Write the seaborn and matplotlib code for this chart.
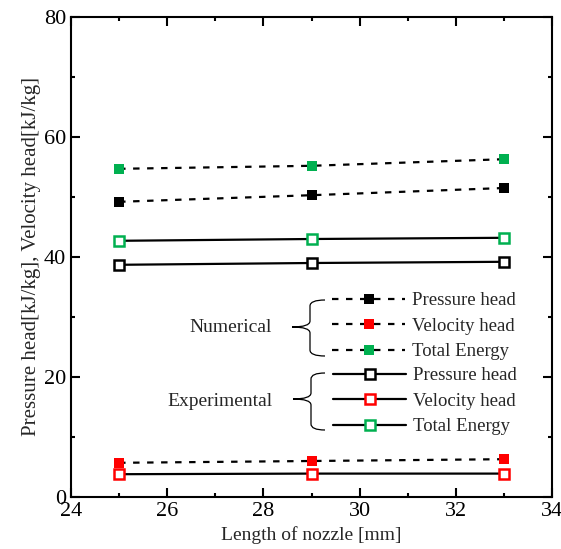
import pandas as pd
import seaborn as sns
import matplotlib.pyplot as plt
from matplotlib.path import Path
from matplotlib.patches import PathPatch

# Data
nozzle_length = [25, 29, 33]
num_pressure = [49.2, 50.3, 51.5]
num_velocity = [5.7, 6.0, 6.3]
num_total = [54.7, 55.2, 56.3]
exp_pressure = [38.7, 39.0, 39.2]
exp_velocity = [3.8, 3.9, 3.9]
exp_total = [42.7, 43.0, 43.2]

labels = ["Pressure head", "Velocity head", "Total Energy"]
colors = ["black", "#ff0000", "#00b050"]

sns.set_style("ticks")
plt.rcParams["font.family"] = ["Liberation Serif", "DejaVu Serif"]

fig = plt.figure(figsize=(5.61, 5.49), dpi=100)
ax = fig.add_axes([71 / 561, 1 - 497 / 549, 481 / 561, 480 / 549])

dash = (0, (2.9, 3.4))


def draw_series(values, color, numerical):
    df = pd.DataFrame({"length": nozzle_length, "value": values})
    sns.lineplot(
        data=df, x="length", y="value", ax=ax,
        color="black", linewidth=1.6,
        linestyle=dash if numerical else "-",
        marker="s", markersize=7.5 if numerical else 6.5,
        markerfacecolor=color if numerical else "white",
        markeredgecolor=color, markeredgewidth=0 if numerical else 1.8,
        legend=False,
    )
    return ax.lines[-1]


num_handles = [draw_series(v, c, True)
               for v, c in zip([num_pressure, num_velocity, num_total], colors)]
exp_handles = [draw_series(v, c, False)
               for v, c in zip([exp_pressure, exp_velocity, exp_total], colors)]

ax.set_xlim(24, 34)
ax.set_ylim(0, 80)
ax.set_xticks([24, 26, 28, 30, 32, 34])
ax.set_xticks([25, 27, 29, 31, 33], minor=True)
ax.set_yticks([0, 20, 40, 60, 80])
ax.set_yticks([10, 30, 50, 70], minor=True)
ax.tick_params(which="both", direction="in", top=True, right=True,
               width=1.5, labelsize=16, colors="black")
ax.tick_params(which="major", length=6.5)
ax.tick_params(which="minor", length=3)
for s in ax.spines.values():
    s.set_linewidth(1.5)
    s.set_color("black")

ax.set_xlabel("Length of nozzle [mm]", fontsize=14, labelpad=4)
ax.set_ylabel("Pressure head[kJ/kg], Velocity head[kJ/kg]", fontsize=15, labelpad=2)

leg_kw = dict(frameon=False, fontsize=13.5, handlelength=3.9, handletextpad=0.35,
              labelspacing=0.45, borderpad=0, borderaxespad=0, loc="upper left",
              numpoints=1)
leg1 = ax.legend(num_handles, labels, bbox_to_anchor=((332 - 71) / 481, (497 - 292) / 480), **leg_kw)
ax.add_artist(leg1)
ax.legend(exp_handles, labels, bbox_to_anchor=((333 - 71) / 481, (497 - 367) / 480), **leg_kw)


def px(x, y):
    return ((x - 71) / 481, (497 - y) / 480)


def brace(x_tip, x_mid, x_open, y_top, y_tip, y_bot):
    r = 6
    pts = [px(x_open, y_top), px(x_mid, y_top), px(x_mid, y_top + r),
           px(x_mid, y_tip - r), px(x_mid, y_tip), px(x_tip, y_tip),
           px(x_mid, y_tip), px(x_mid, y_tip + r),
           px(x_mid, y_bot - r), px(x_mid, y_bot), px(x_open, y_bot)]
    codes = [Path.MOVETO, Path.CURVE3, Path.CURVE3, Path.LINETO,
             Path.CURVE3, Path.CURVE3, Path.CURVE3, Path.CURVE3,
             Path.LINETO, Path.CURVE3, Path.CURVE3]
    ax.add_patch(PathPatch(Path(pts, codes), transform=ax.transAxes,
                           facecolor="none", edgecolor="black", lw=0.9))


brace(292, 310, 325, 300, 327, 356)
brace(293, 311, 325, 373, 399, 430)
ax.text(*px(272, 327), "Numerical", transform=ax.transAxes, ha="right", va="center", fontsize=14)
ax.text(*px(273, 401), "Experimental", transform=ax.transAxes, ha="right", va="center", fontsize=14)

fig.savefig("out.png", dpi=100)
